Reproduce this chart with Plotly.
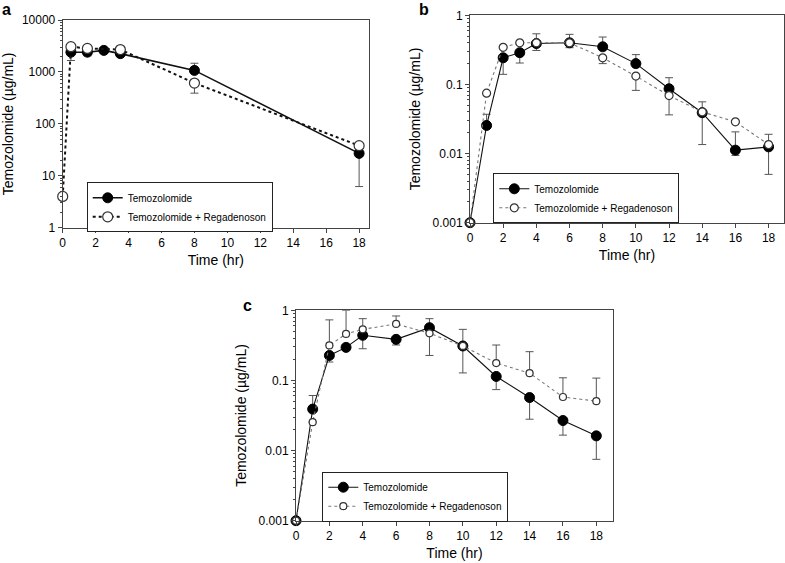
import plotly.graph_objects as go

# ---------------- data ----------------
x_ticks = [0, 2, 4, 6, 8, 10, 12, 14, 16, 18]

# Panel a
a_time_tmz = [0.5, 1.5, 2.5, 3.5, 8, 18]
a_tmz = [2400, 2400, 2600, 2250, 1070, 27]
a_tmz_hi = [None, None, None, None, 1470, None]
a_tmz_lo = [1660, 2050, None, None, None, 6.2]
a_time_reg = [0, 0.5, 1.5, 3.5, 8, 18]
a_reg = [4.0, 3060, 2830, 2700, 610, 38]
a_reg_hi = [None, None, None, None, None, None]
a_reg_lo = [None, None, None, None, 390, None]
a_yticks = [1, 10, 100, 1000, 10000]
a_yticktext = ["1", "10", "100", "1000", "10000"]

# Panel b
b_time = [0, 1, 2, 3, 4, 6, 8, 10, 12, 14, 16, 18]
b_tmz = [0.001, 0.0255, 0.243, 0.288, 0.39, 0.40, 0.35, 0.20, 0.0865, 0.039, 0.0112, 0.0125]
b_tmz_hi = [None, 0.037, None, None, 0.54, 0.53, 0.485, 0.27, 0.125, 0.056, 0.0206, 0.019]
b_tmz_lo = [None, None, 0.14, 0.204, 0.31, 0.34, None, None, 0.0363, 0.0135, 0.0094, 0.005]
b_reg = [0.001, 0.0748, 0.344, 0.40, 0.40, 0.40, 0.243, 0.132, 0.069, 0.040, 0.0288, 0.0135]
b_reg_hi = [None] * 12
b_reg_lo = [None, None, None, None, None, None, 0.20, 0.082, None, None, None, None]

# Panel c
c_time = [0, 1, 2, 3, 4, 6, 8, 10, 12, 14, 16, 18]
c_tmz = [0.001, 0.039, 0.227, 0.296, 0.44, 0.385, 0.565, 0.31, 0.114, 0.057, 0.0268, 0.0162]
c_tmz_hi = [None, 0.061, None, None, None, None, 0.76, 0.535, None, None, None, None]
c_tmz_lo = [None, None, 0.183, None, 0.283, 0.32, None, 0.128, 0.074, 0.028, 0.0166, 0.0075]
c_reg = [0.001, 0.0254, 0.316, 0.46, 0.535, 0.64, 0.47, 0.31, 0.177, 0.127, 0.058, 0.0506]
c_reg_hi = [None, None, 0.73, 1.0, 0.76, 0.83, None, None, 0.32, 0.257, 0.109, 0.108]
c_reg_lo = [None, None, None, None, None, None, 0.227, None, None, None, None, None]
bc_yticks = [0.001, 0.01, 0.1, 1]
bc_yticktext = ["0.001", "0.01", "0.1", "1"]

name_tmz = "Temozolomide"
name_reg = "Temozolomide + Regadenoson"

W, H = 785, 563
FONT = "Liberation Sans, Arial, sans-serif"


def err(y, hi, lo):
    plus = [(h - v) if h is not None else 0 for v, h in zip(y, hi)]
    minus = [(v - l) if l is not None else 0 for v, l in zip(y, lo)]
    return dict(type="data", symmetric=False, array=plus, arrayminus=minus,
                color="#555", thickness=1, width=4)


def minor_vals(decades):
    vals = []
    for d in decades:
        for m in range(2, 10):
            vals.append(m * d)
    return vals


fig = go.Figure()


def add_pair(xa, ya, legend, t1, y1, h1, l1, t2, y2, h2, l2,
             fsize, osize, fline, oline, ocolor, odash):
    fig.add_trace(go.Scatter(
        x=t1, y=y1, name=name_tmz, mode="lines+markers", xaxis=xa, yaxis=ya,
        legend=legend, cliponaxis=False,
        line=dict(color="#111", width=fline, dash="solid"),
        marker=dict(symbol="circle", size=fsize, color="black",
                    line=dict(color="black", width=1)),
        error_y=err(y1, h1, l1)))
    fig.add_trace(go.Scatter(
        x=t2, y=y2, name=name_reg, mode="lines+markers", xaxis=xa, yaxis=ya,
        legend=legend, cliponaxis=False,
        line=dict(color=ocolor, width=oline, dash=odash),
        marker=dict(symbol="circle", size=osize, color="white",
                    line=dict(color="#333", width=1.2)),
        error_y=err(y2, h2, l2)))


add_pair("x", "y", "legend", a_time_tmz, a_tmz, a_tmz_hi, a_tmz_lo,
         a_time_reg, a_reg, a_reg_hi, a_reg_lo, 10, 10, 1.6, 2, "#111", "dot")
add_pair("x2", "y2", "legend2", b_time, b_tmz, b_tmz_hi, b_tmz_lo,
         b_time, b_reg, b_reg_hi, b_reg_lo, 10, 8, 1.1, 1.1, "#777", "dot")
add_pair("x3", "y3", "legend3", c_time, c_tmz, c_tmz_hi, c_tmz_lo,
         c_time, c_reg, c_reg_hi, c_reg_lo, 10, 7, 1.1, 1.1, "#777", "dot")


def px_x(p):
    return p / W


def px_y(p):
    return 1 - p / H


axis_common = dict(showline=True, linecolor="#444", linewidth=1, mirror=True,
                   showgrid=False, zeroline=False, ticks="outside", ticklen=4,
                   tickcolor="#444", tickfont=dict(size=12, color="black"),
                   automargin=False)

xa_common = dict(axis_common, tickvals=x_ticks,
                 title=dict(text="Time (hr)", font=dict(size=14, color="black"), standoff=6))


def ya_log(decades):
    return dict(axis_common, type="log",
                minor=dict(tickmode="array", tickvals=minor_vals(decades), ticks="outside",
                           ticklen=2, tickcolor="#444", showgrid=False),
                title=dict(text="Temozolomide (µg/mL)", font=dict(size=14, color="black"),
                           standoff=8))


legend_common = dict(xanchor="left", yanchor="top", bordercolor="#222", borderwidth=1,
                     bgcolor="white", font=dict(size=10, color="black"),
                     tracegroupgap=0, itemwidth=30)

fig.update_layout(
    width=W, height=H, margin=dict(l=0, r=0, t=0, b=0, autoexpand=False),
    paper_bgcolor="white", plot_bgcolor="white",
    font=dict(family=FONT, color="black"),
    xaxis=dict(xa_common, domain=[px_x(62.7), px_x(369)], range=[0, 18.6], anchor="y"),
    yaxis=dict(ya_log([1, 10, 100, 1000]), domain=[px_y(227.7), px_y(20)], range=[0, 4],
               anchor="x", tickvals=a_yticks, ticktext=a_yticktext),
    xaxis2=dict(xa_common, domain=[px_x(470), px_x(784)], range=[0, 18.93], anchor="y2"),
    yaxis2=dict(ya_log([0.001, 0.01, 0.1]), domain=[px_y(222.7), px_y(15.3)], range=[-3, 0],
                anchor="x2", tickvals=bc_yticks, ticktext=bc_yticktext),
    xaxis3=dict(xa_common, domain=[px_x(296), px_x(613)], range=[0, 19.0], anchor="y3"),
    yaxis3=dict(ya_log([0.001, 0.01, 0.1]), domain=[px_y(520.7), px_y(310.3)], range=[-3, 0],
                anchor="x3", tickvals=bc_yticks, ticktext=bc_yticktext),
    legend=dict(legend_common, x=px_x(86.7), y=px_y(182.3)),
    legend2=dict(legend_common, x=px_x(493.3), y=px_y(173.3)),
    legend3=dict(legend_common, x=px_x(322.3), y=px_y(471.7)),
)

for txt, xp, yp in [("a", 6, 9), ("b", 424, 9), ("c", 247, 305)]:
    fig.add_annotation(text="<b>%s</b>" % txt, x=px_x(xp), y=px_y(yp), xref="paper",
                       yref="paper", showarrow=False, xanchor="center", yanchor="middle",
                       font=dict(size=16, color="black", family=FONT))

fig.write_html("out.html", config={"displayModeBar": False},
               post_script="document.body.style.margin='0';document.body.style.overflow='hidden';")
